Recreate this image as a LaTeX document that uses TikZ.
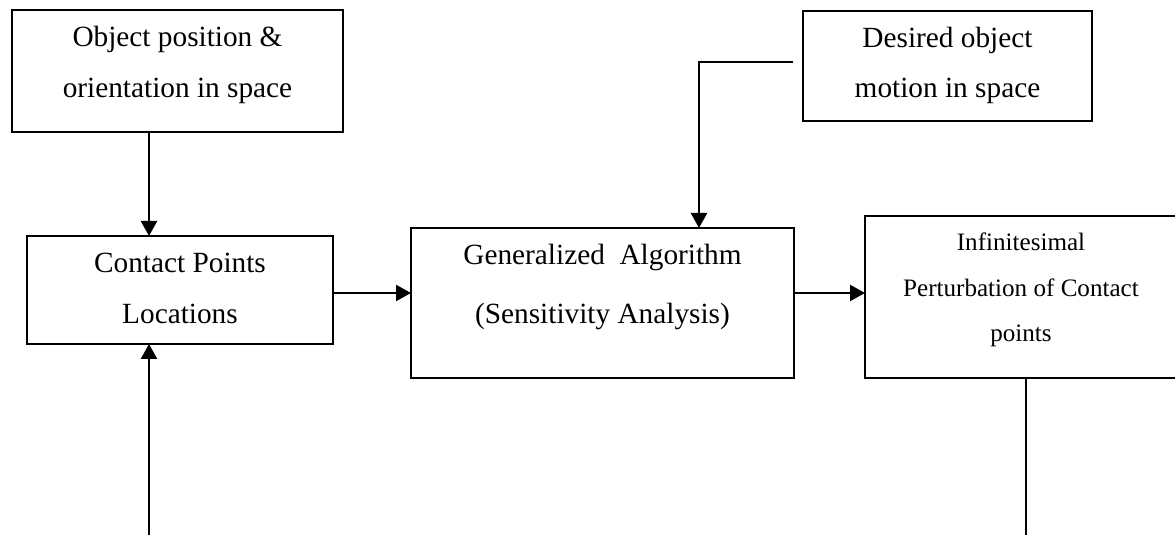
\documentclass[tikz,border=0pt]{standalone}
\usepackage{fontspec}
\setmainfont{Liberation Serif}
\usetikzlibrary{arrows.meta}
\begin{document}
\begin{tikzpicture}[x=0.5pt,y=-0.5pt,
  box/.style={draw,line width=1.15pt,inner sep=0pt,outer sep=0pt},
  big/.style={font=\fontsize{14.65}{17}\selectfont,anchor=base,inner sep=0pt},
  small/.style={font=\fontsize{12.55}{15}\selectfont,anchor=base,inner sep=0pt},
  conn/.style={line width=1.15pt},
  arr/.style={conn,-{Triangle[width=8pt,length=7.5pt]}}]
\useasboundingbox (0,0) rectangle (1175,535);
\clip (0,0) rectangle (1175,535);
% boxes
\node[box,minimum width=165.5pt,minimum height=61pt] (b1) at (177.5,71) {};
\node[box,minimum width=153pt,minimum height=54pt] (b2) at (180,290) {};
\node[box,minimum width=191.5pt,minimum height=75pt] (b3) at (602.5,303) {};
\node[box,minimum width=144.5pt,minimum height=55pt] (b4) at (947.5,66) {};
\node[box,minimum width=156pt,minimum height=81pt] (b5) at (1021,297) {};
% texts
\node[big] (t1a) at (177.5,47) {Object position \&};
\node[big] (t1b) at (177.5,98) {orientation in space};
\node[big] (t2a) at (180,273) {Contact Points};
\node[big] (t2b) at (180,324) {Locations};
\node[big] (t3a) at (602.5,264) {Generalized\ \ Algorithm};
\node[big] (t3b) at (602.5,323) {(Sensitivity Analysis)};
\node[big] (t4a) at (947.5,48) {Desired object};
\node[big] (t4b) at (947.5,98) {motion in space};
\node[small] (t5a) at (1021,251) {Infinitesimal};
\node[small] (t5b) at (1021,297) {Perturbation of Contact};
\node[small] (t5c) at (1021,342) {points};
% helper coordinates
\coordinate (c1) at (149,0);
\coordinate (c2) at (699,0);
\coordinate (r1) at (0,293);
\coordinate (d1) at (793,62);
\coordinate (e1) at (149,535);
\coordinate (e2) at (1026,535);
% connectors
\draw[arr] (b1.south -| c1) -- (b2.north -| c1);
\draw[arr] (b2.east |- r1) -- (b3.west |- r1);
\draw[arr] (b3.east |- r1) -- (b5.west |- r1);
\draw[arr] (d1) -| (b3.north -| c2);
\draw[arr] (e1) -- (b2.south -| e1);
\draw[conn] (b5.south -| e2) -- (e2);
\end{tikzpicture}
\end{document}
